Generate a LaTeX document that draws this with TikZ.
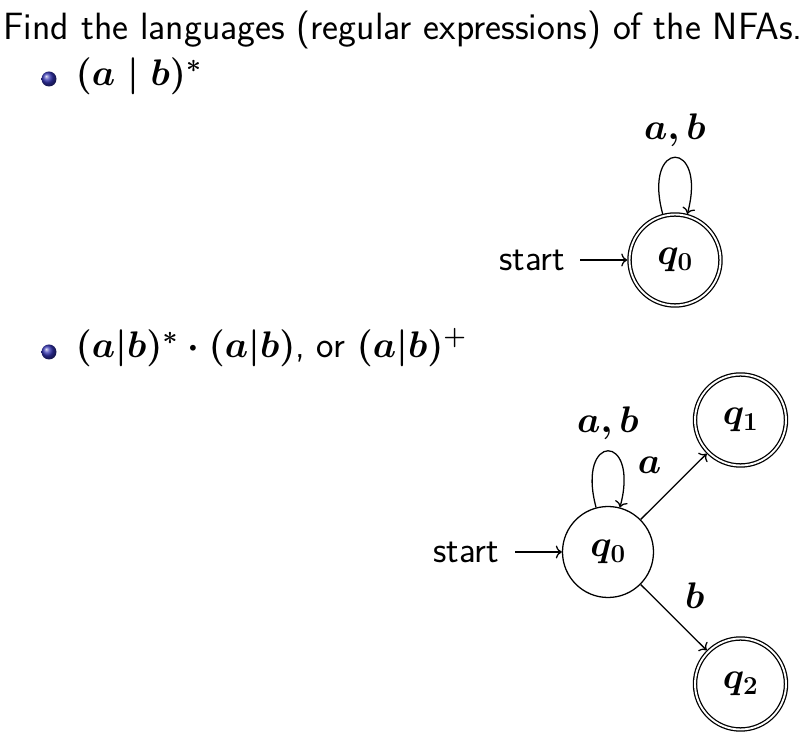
\documentclass[tikz,border=0pt]{standalone}
\usepackage{fix-cm}
\usepackage{amsmath}
\usepackage{fontspec}
\usetikzlibrary{arrows.meta}
\renewcommand\familydefault{\sfdefault}
\definecolor{bulletblue}{rgb}{0.2,0.2,0.7}
\begin{document}
\boldmath
\begin{tikzpicture}[x=1pt,y=1pt,line width=1.27pt,
  >={Computer Modern Rightarrow[length=6pt,width=13pt]},
  txt/.style={inner sep=0pt, font=\fontsize{37}{44}\selectfont},
  ttl/.style={inner sep=0pt, font=\fontsize{38}{45}\selectfont},
  state/.style={circle, draw, minimum size=91pt, inner sep=0pt, font=\fontsize{37}{44}\selectfont},
  accept/.style={state, double, double distance=1.9pt, outer sep=2.22pt},
  single/.style={state, outer sep=0.64pt},
  bul/.style={circle, inner sep=0pt, minimum size=15pt, shade, ball color=bulletblue},
]
\useasboundingbox (0,0) rectangle (812,739);

% title
\node[ttl, anchor=base west] (title) at (3,699) {Find the languages (regular expressions) of the NFAs.};

% bullet 1
\node[bul] (b1) at (49,660) {};
\node[txt, anchor=base west] (t1) at (75,653) {$(a \mid b)^*$};

% NFA 1
\node[accept] (q0a) at (675,479) {$q_0$};
\node[txt, anchor=east] (s1) at (566,479) {start};
\draw[->, shorten <=14pt] (s1) -- (q0a);
\draw[->] (q0a.105) .. controls +(105:78pt) and +(75:78pt) .. (q0a.75)
  node[txt, midway, yshift=27pt] (l1) {$a, b$};

% bullet 2
\node[bul] (b2) at (49,387) {};
\node[txt, anchor=base west] (t2) at (75,381) {$(a|b)^* \cdot (a|b)$, or $(a|b)^+$};

% NFA 2
\node[single] (q0b) at (608,187) {$q_0$};
\node[accept] (q1) at (740.5,319) {$q_1$};
\node[accept] (q2) at (740.5,55) {$q_2$};
\node[txt, anchor=east] (s2) at (500,187) {start};
\draw[->, shorten <=15pt] (s2) -- (q0b);
\draw[->] (q0b.105) .. controls +(105:78pt) and +(75:78pt) .. (q0b.75)
  node[txt, midway, yshift=28pt] (l2) {$a, b$};
\draw[->] (q0b) -- (q1) node[txt, midway, xshift=-24pt, yshift=21pt] (la) {$a$};
\draw[->] (q0b) -- (q2) node[txt, midway, xshift=21pt, yshift=22pt] (lb) {$b$};
\end{tikzpicture}
\end{document}
